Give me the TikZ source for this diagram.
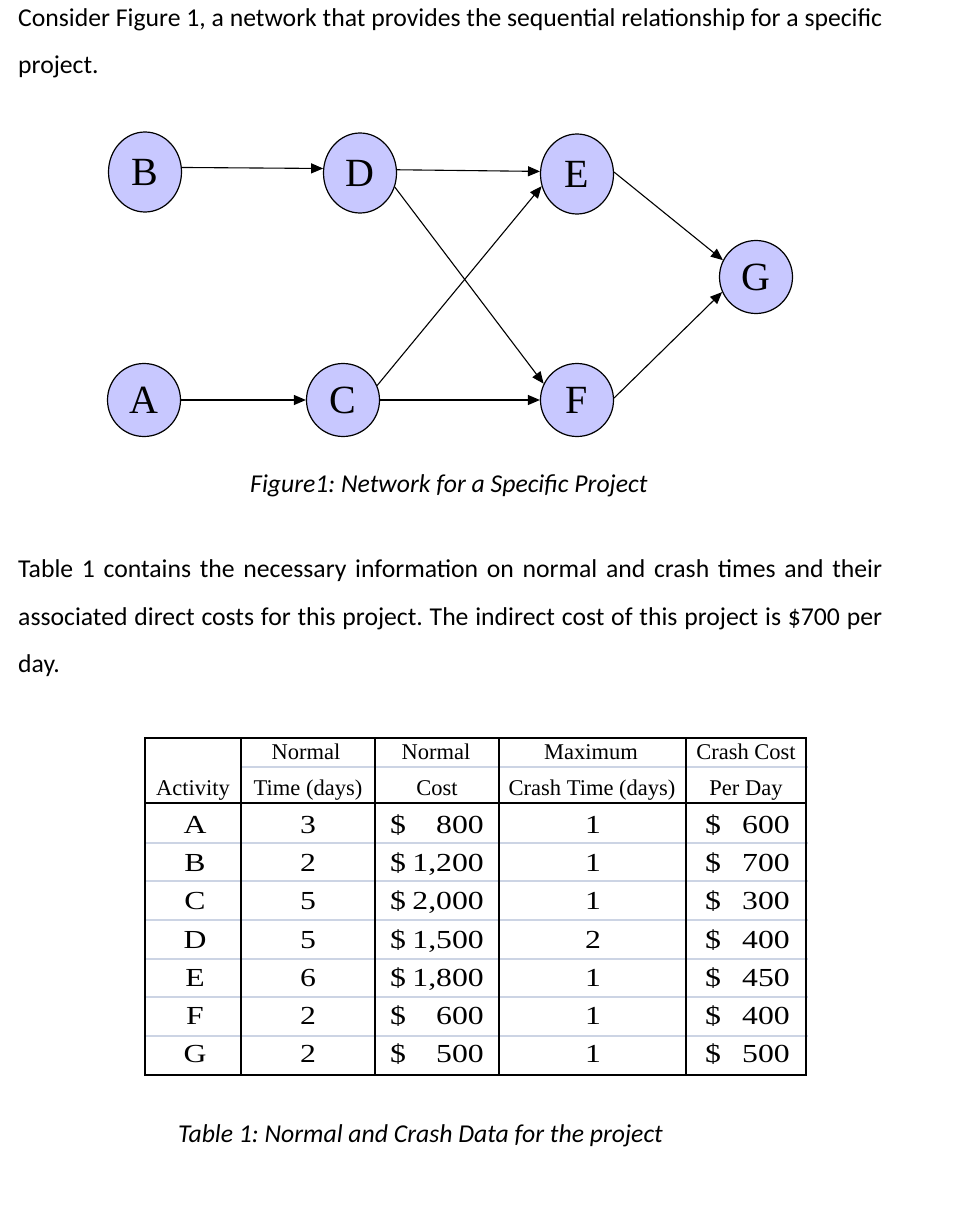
\documentclass[tikz,border=0pt]{standalone}
\usepackage{fontspec}
\setmainfont{Carlito}
\newfontfamily\tnr{Liberation Serif}
\newfontfamily\tnrwide[FakeStretch=1.22]{Liberation Serif}
\usetikzlibrary{shapes.geometric,arrows.meta}
\definecolor{nodefill}{RGB}{200,200,255}
\definecolor{sepcol}{RGB}{204,212,228}
\newcommand{\jline}[1]{\makebox[864pt][s]{#1}}
\frenchspacing
\begin{document}
\begin{tikzpicture}[x=1pt,y=-1pt,
  evt/.style={ellipse,draw=black,line width=1.2pt,fill=nodefill,inner sep=0pt,
    minimum width=73pt,minimum height=73pt,font=\tnr\fontsize{40}{40}\selectfont},
  tall/.style={minimum height=80pt},
  link/.style={line width=1.1pt,-{Triangle[length=12pt,width=10pt]}},
  body/.style={anchor=base west,inner sep=0pt,font=\fontsize{25.7}{25.7}\selectfont},
  capt/.style={anchor=base west,inner sep=0pt,font=\itshape\fontsize{25.7}{25.7}\selectfont},
  hdr/.style={anchor=base,inner sep=0pt,font=\tnr\fontsize{22.5}{22.5}\selectfont},
  cell/.style={anchor=base,inner sep=0pt,font=\tnrwide\fontsize{26}{26}\selectfont},
  rule/.style={line width=2pt,black},
  sep/.style={line width=2.2pt,sepcol}]
\useasboundingbox (0,0) rectangle (956,1214);
\fill[white] (0,0) rectangle (956,1214);

% body text
\node[body] (t1) at (18,27) {\jline{Consider Figure 1, a network that provides the sequential relationship for a specific}};
\node[body] (t2) at (18,74) {project.};

% network
\node[evt,tall] (B) at (145,172) {B};
\node[evt,tall] (D) at (360,173) {D};
\node[evt,tall] (E) at (577,174) {E};
\node[evt] (A) at (144,400) {A};
\node[evt] (C) at (343,400) {C};
\node[evt] (F) at (577,400) {F};
\node[evt] (G) at (756,277) {G};

\draw[link] (B.7) -- (D.173);
\draw[link] (D.5) -- (E.176);
\draw[link] (A.east) -- (C.west);
\draw[link] (C.east) -- (F.west);
\draw[link] (D.-22) -- (F.154);
\draw[link] (C.23) -- (E.-161);
\draw[link] (E.3) -- (G.153);
\draw[link] (F.3) -- (G.204);

\node[capt] (cap1) at (250,492) {Figure1: Network for a Specific Project};

\node[body] (t3) at (18,577) {\jline{Table 1 contains the necessary information on normal and crash times and their}};
\node[body] (t4) at (18,625) {\jline{associated direct costs for this project. The indirect cost of this project is \$700 per}};
\node[body] (t5) at (18,672) {day.};

% table separators
\draw[sep] (241,767) -- (808,767);
\foreach \yy in {843,881,920,959,997,1036}
  \draw[sep] (145,\yy) -- (808,\yy);
% table rules
\draw[rule] (145,738) rectangle (806,1075);
\foreach \xx in {241,375,499,686}
  \draw[rule] (\xx,738) -- (\xx,1075);
\draw[rule] (145,803) -- (806,803);

% headers
\node[hdr] (h11) at (306,759) {Normal};
\node[hdr] (h12) at (436,759) {Normal};
\node[hdr] (h13) at (591,759) {Maximum};
\node[hdr] (h14) at (746,759) {Crash Cost};
\node[hdr] (h20) at (193,795) {Activity};
\node[hdr] (h21) at (308,795) {Time (days)};
\node[hdr] (h22) at (437,795) {Cost};
\node[hdr] (h23) at (592,795) {Crash Time (days)};
\node[hdr] (h24) at (746,795) {Per Day};

% data
\foreach \act/\nt/\nc/\ct/\cc [count=\i from 0] in
  {A/3/800/1/600, B/2/{1,200}/1/700, C/5/{2,000}/1/300, D/5/{1,500}/2/400,
   E/6/{1,800}/1/450, F/2/600/1/400, G/2/500/1/500}{
  \pgfmathsetmacro{\yb}{833+38.33*\i}
  \node[cell] (r\i a) at (195,\yb) {\act};
  \node[cell] (r\i b) at (308,\yb) {\nt};
  \node[cell,anchor=base west] (r\i c) at (390,\yb) {\$};
  \node[cell,anchor=base east] (r\i d) at (484,\yb) {\nc};
  \node[cell] (r\i e) at (593,\yb) {\ct};
  \node[cell,anchor=base west] (r\i f) at (705,\yb) {\$};
  \node[cell,anchor=base east] (r\i g) at (790,\yb) {\cc};
}

\node[capt] (cap2) at (178,1142) {Table 1: Normal and Crash Data for the project};
\end{tikzpicture}
\end{document}
